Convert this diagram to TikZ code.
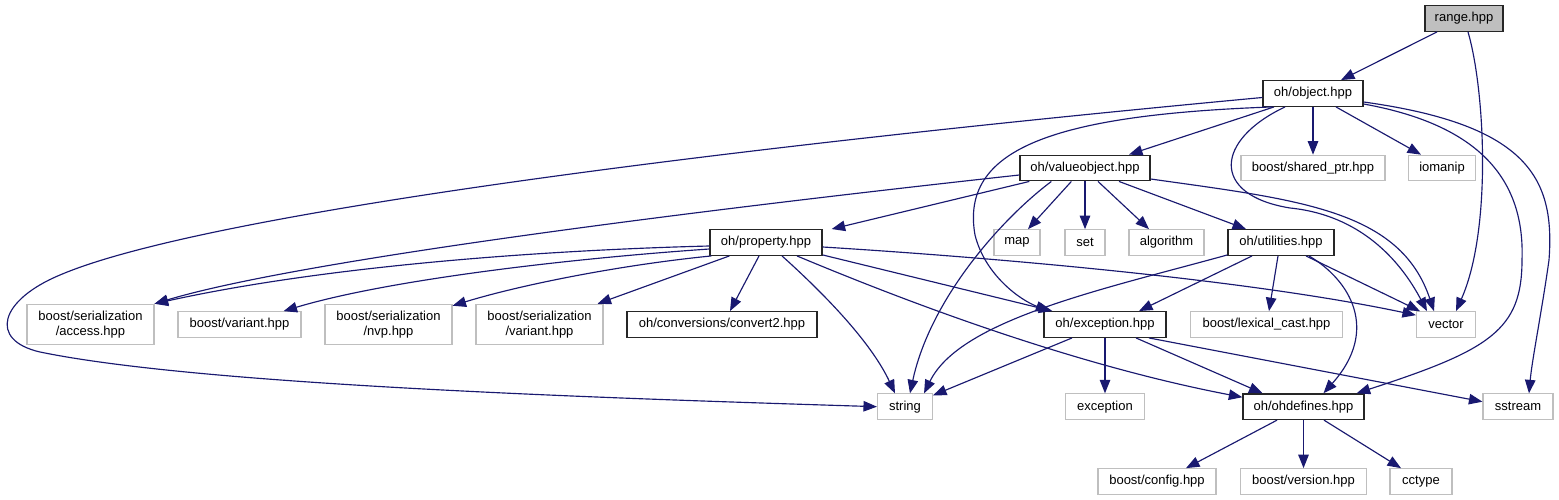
\documentclass[tikz,border=0pt]{standalone}
\usepackage{fontspec}
\setmainfont{Liberation Sans}
\usetikzlibrary{arrows.meta,calc}
\definecolor{edgeblue}{HTML}{191970}
\definecolor{greyline}{HTML}{BFBFBF}
\begin{document}
\begin{tikzpicture}[x=1pt,y=-1pt,
  base/.style={rectangle, inner sep=0pt, minimum height=25.6pt, align=center,
    font=\fontsize{13}{14.5}\selectfont},
  doc/.style={base, draw=black!85, line width=1.3pt},
  ext/.style={base, draw=greyline, line width=1.1pt},
  twoline/.style={minimum height=40.4pt},
  edge/.style={draw=edgeblue, line width=1.15pt, -{Triangle[length=13.5pt,width=10.5pt]}}]
\path[use as bounding box, fill=white] (0,0) rectangle (1559,500);

% nodes
\node[doc, fill=greyline, minimum width=78pt] (range) at (1464,18.5) {range.hpp};
\node[doc, minimum width=100pt] (object) at (1313,93.5) {oh/object.hpp};
\node[doc, minimum width=130pt] (valueobject) at (1085,168) {oh/valueobject.hpp};
\node[ext, minimum width=144pt] (sharedptr) at (1313,168) {boost/shared\_ptr.hpp};
\node[ext, minimum width=67pt] (iomanip) at (1442,168) {iomanip};
\node[doc, minimum width=112pt] (property) at (766,242.5) {oh/property.hpp};
\node[ext, minimum width=46pt] (map) at (1017,242.5) {map};
\node[ext, minimum width=40pt] (set) at (1085,242.5) {set};
\node[ext, minimum width=75pt] (algorithm) at (1166.5,242.5) {algorithm};
\node[doc, minimum width=106pt] (utilities) at (1281,242.5) {oh/utilities.hpp};
\node[ext, twoline, minimum width=127pt] (access) at (90.5,324.5) {boost/serialization\\/access.hpp};
\node[ext, minimum width=123pt] (variant) at (239.5,324.5) {boost/variant.hpp};
\node[ext, twoline, minimum width=127pt] (nvp) at (388.5,324.5) {boost/serialization\\/nvp.hpp};
\node[ext, twoline, minimum width=127pt] (svariant) at (539.5,324.5) {boost/serialization\\/variant.hpp};
\node[doc, minimum width=190pt] (convert2) at (722,324.5) {oh/conversions/convert2.hpp};
\node[doc, minimum width=122pt] (exchpp) at (1105,324.5) {oh/exception.hpp};
\node[ext, minimum width=152pt] (lexical) at (1266.5,324.5) {boost/lexical\_cast.hpp};
\node[ext, minimum width=59pt] (vector) at (1446,324.5) {vector};
\node[ext, minimum width=55pt] (string) at (905,406.7) {string};
\node[ext, minimum width=79pt] (exception) at (1105,406.7) {exception};
\node[doc, minimum width=121pt] (ohdefines) at (1303.5,406.7) {oh/ohdefines.hpp};
\node[ext, minimum width=70pt] (sstream) at (1518,406.7) {sstream};
\node[ext, minimum width=118pt] (config) at (1157,481.5) {boost/config.hpp};
\node[ext, minimum width=126pt] (version) at (1303.5,481.5) {boost/version.hpp};
\node[ext, minimum width=62pt] (cctype) at (1421,481.5) {cctype};

% range
\draw[edge] ($(range.south)+(-27,0)$) -- ($(object.north)+(28,0)$);
\draw[edge] ($(range.south)+(4,0)$) .. controls (1485,90) and (1492,230) .. ($(vector.north)+(10,0)$);

% object
\draw[edge] ($(object.south)+(-39,0)$) -- ($(valueobject.north)+(44,0)$);
\draw[edge] (object.south) -- (sharedptr.north);
\draw[edge] ($(object.south)+(23,0)$) -- ($(iomanip.north)+(-21,0)$);
\draw[edge] ($(object.west)+(0,4)$) .. controls (700,150) and (200,215) .. (60,275)
  .. controls (0,300) and (-12,340) .. (40,352)
  .. controls (200,385) and (600,398) .. (string.west);
\draw[edge] ($(object.south)+(-41,0)$) .. controls (1050,115) and (960,150) .. (975,235)
  .. controls (985,275) and (1020,300) .. ($(exchpp.north west)+(6,0)$);
\draw[edge] ($(object.south)+(-28,0)$) .. controls (1215,140) and (1210,195) .. (1290,208)
  .. controls (1360,215) and (1400,260) .. ($(vector.north)+(-19,0)$);
\draw[edge] ($(object.east)+(0,10.5)$) .. controls (1480,125) and (1525,180) .. (1522,260)
  .. controls (1522,330) and (1490,350) .. ($(ohdefines.north east)+(-8,0)$);
\draw[edge] ($(object.east)+(0,8.5)$) .. controls (1530,125) and (1555,180) .. (1549,260)
  .. controls (1542,310) and (1532,360) .. ($(sstream.north)+(11,0)$);

% valueobject
\draw[edge] ($(valueobject.east)+(0,11)$) .. controls (1300,200) and (1400,210) .. ($(vector.north)+(-12,0)$);
\draw[edge] ($(valueobject.south west)+(10,0)$) -- ($(property.north east)+(9,0)$);
\draw[edge] ($(valueobject.west)+(0,7)$) .. controls (700,210) and (300,260) .. (access.north east);
\draw[edge] ($(valueobject.south west)+(52,0)$) -- ($(map.north)+(11,0)$);
\draw[edge] (valueobject.south) -- (set.north);
\draw[edge] ($(valueobject.south)+(13,0)$) -- ($(algorithm.north)+(-17.5,0)$);
\draw[edge] ($(valueobject.south)+(34,0)$) -- ($(utilities.north)+(-35,0)$);
\draw[edge] ($(valueobject.south west)+(32,0)$) .. controls (1000,220) and (930,300) .. ($(string.north)+(5,0)$);

% property
\draw[edge] ($(property.west)+(0,3.5)$) .. controls (550,250) and (330,265) .. (access.north east);
\draw[edge] ($(property.west)+(0,6.5)$) .. controls (550,260) and (380,282) .. ($(variant.north east)+(-18,0)$);
\draw[edge] ($(property.south west)+(2,0)$) .. controls (620,265) and (520,285) .. ($(nvp.north east)+(0,2)$);
\draw[edge] ($(property.south west)+(20,0)$) -- ($(svariant.north east)+(-6,0)$);
\draw[edge] ($(property.south)+(-7,0)$) -- ($(convert2.north)+(8,0)$);
\draw[edge] ($(property.south)+(16,0)$) .. controls (820,290) and (870,340) .. ($(string.north)+(-10,0)$);
\draw[edge] ($(property.south)+(31,0)$) .. controls (950,320) and (1100,370) .. ($(ohdefines.north west)+(0,4)$);
\draw[edge] ($(property.south east)+(0,-1)$) -- ($(exchpp.north west)+(9,0)$);
\draw[edge] ($(property.east)+(0,4.5)$) .. controls (1000,258) and (1250,280) .. ($(vector.north west)+(0,4)$);

% utilities
\draw[edge] ($(utilities.south west)+(0,-1)$) .. controls (1100,290) and (960,320) .. ($(string.north east)+(-9,0)$);
\draw[edge] ($(utilities.south)+(-29,0)$) -- ($(exchpp.north)+(34,0)$);
\draw[edge] ($(utilities.south)+(-3,0)$) -- ($(lexical.north)+(2.5,0)$);
\draw[edge] ($(utilities.south)+(25,0)$) -- ($(vector.north west)+(4,0)$);
\draw[edge] ($(utilities.south)+(28,0)$) .. controls (1350,280) and (1380,330) .. ($(ohdefines.north)+(20,0)$);

% exception.hpp
\draw[edge] ($(exchpp.south)+(-33,0)$) -- ($(string.north east)+(0,2)$);
\draw[edge] (exchpp.south) -- (exception.north);
\draw[edge] ($(exchpp.south)+(31,0)$) -- ($(ohdefines.north)+(-41,0)$);
\draw[edge] ($(exchpp.south)+(44,0)$) -- ($(sstream.west)+(0,-5)$);

% ohdefines
\draw[edge] ($(ohdefines.south)+(-26.5,0)$) -- ($(config.north)+(29,0)$);
\draw[edge] (ohdefines.south) -- (version.north);
\draw[edge] ($(ohdefines.south)+(20.5,0)$) -- ($(cctype.north)+(-20,0)$);
\end{tikzpicture}
\end{document}
